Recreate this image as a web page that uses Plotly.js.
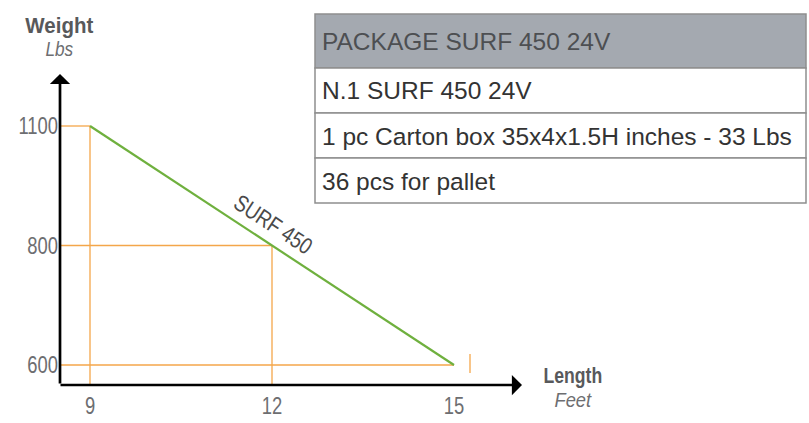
<!DOCTYPE html>
<html><head><meta charset="utf-8">
<script src="https://cdn.plot.ly/plotly-3.0.1.min.js"></script>
<style>html,body{margin:0;padding:0;background:#fff}#chart{width:809px;height:423px}</style>
</head><body><div id="chart"></div>
<script>
// ---- data ----
const lengths = [9, 12, 15];                 // Feet
const weights = [1100, 800, 600];            // Lbs
const weightCategories = ['600', '800', '1100'];
const lengthTickLabels = ['9', '12', '15'];
const seriesName = 'SURF 450';
const yTitle = ['Weight', 'Lbs'];
const xTitle = ['Length', 'Feet'];
const tableHeader = 'PACKAGE SURF 450 24V';
const tableRows = ['N.1 SURF 450 24V', '1 pc Carton box 35x4x1.5H inches - 33 Lbs', '36 pcs for pallet'];

// ---- styles ----
const W = 809, H = 423;
const COND = '"Liberation Sans", Arial, sans-serif';   // narrowed after drawing
const SANS = '"Liberation Sans", Arial, sans-serif';
const ORANGE = '#f4a64a', GREEN = '#6fb03e', GREYTXT = '#58595b', LIGHTTXT = '#6d6e71';
const xRange = [8.5055, 16.1209];
const yRange = [-0.1674, 2.4268];
const wIdx = w => weightCategories.indexOf(String(w));
const px = v => v / W, py = v => 1 - v / H;

// table geometry (pixels)
const TBL = {x0: 315, x1: 806, top: 14, headH: 54, rowH: 45, pad: 7};

const shapes = [];
// guide lines
lengths.forEach((x, i) => {
  shapes.push({type: 'line', xref: 'x', yref: 'y', layer: 'below',
    x0: xRange[0], x1: x, y0: wIdx(weights[i]), y1: wIdx(weights[i]),
    line: {color: ORANGE, width: 1.3}});
  if (i < lengths.length - 1) {
    shapes.push({type: 'line', xref: 'x', yref: 'y', layer: 'below',
      x0: x, x1: x, y0: yRange[0], y1: wIdx(weights[i]),
      line: {color: ORANGE, width: 1.3}});
  }
});
const last = lengths.length - 1;
shapes.push({type: 'line', xref: 'x', yref: 'y', layer: 'below',
  xsizemode: 'pixel', xanchor: lengths[last], x0: 16, x1: 16,
  ysizemode: 'pixel', yanchor: wIdx(weights[last]), y0: -8, y1: 11,
  line: {color: ORANGE, width: 1.3}});

const annotations = [];
const squeeze = [];
function addAnn(a, f) { annotations.push(a); squeeze.push(f || null); }

// table cells
shapes.push({type: 'rect', xref: 'paper', yref: 'paper', layer: 'above',
  x0: px(TBL.x0), x1: px(TBL.x1), y0: py(TBL.top + TBL.headH), y1: py(TBL.top),
  fillcolor: '#a4a9b0', line: {color: '#8e8e8e', width: 1.5}});
addAnn({xref: 'paper', yref: 'paper', x: px(TBL.x0 + TBL.pad - 2), y: py(TBL.top + TBL.headH / 2),
  xanchor: 'left', yanchor: 'middle', showarrow: false, text: tableHeader,
  font: {family: SANS, size: 24.5, color: '#4d4f52'}});
tableRows.forEach((r, i) => {
  const t = TBL.top + TBL.headH + i * TBL.rowH;
  shapes.push({type: 'rect', xref: 'paper', yref: 'paper', layer: 'above',
    x0: px(TBL.x0), x1: px(TBL.x1), y0: py(t + TBL.rowH), y1: py(t),
    fillcolor: '#ffffff', line: {color: '#8e8e8e', width: 1.5}});
  addAnn({xref: 'paper', yref: 'paper', x: px(TBL.x0 + TBL.pad - 2), y: py(t + TBL.rowH / 2 + 0.5),
    xanchor: 'left', yanchor: 'middle', showarrow: false, text: r,
    font: {family: SANS, size: 24.5, color: '#333333'}});
});

// axes arrows
addAnn({xref: 'paper', yref: 'paper', x: px(60), y: py(74), axref: 'pixel', ayref: 'pixel', ax: 0, ay: 311,
  text: '', showarrow: true, arrowhead: 1, arrowwidth: 2.7, arrowsize: 1.25, arrowcolor: '#000', standoff: 0});
addAnn({xref: 'paper', yref: 'paper', x: px(522), y: py(385), axref: 'pixel', ayref: 'pixel', ax: -463, ay: 0,
  text: '', showarrow: true, arrowhead: 1, arrowwidth: 2.7, arrowsize: 1.25, arrowcolor: '#000', standoff: 0});

// axis titles (two lines each, line spacing set by the small base size)
const titleText = (t, s1, s2) =>
  '<b><span style="font-size:' + s1 + 'px;color:' + GREYTXT + '">' + t[0] + '</span></b><br>' +
  '<i><span style="font-size:' + s2 + 'px;color:' + LIGHTTXT + '">' + t[1] + '</span></i>';
addAnn({xref: 'paper', yref: 'paper', x: px(60), y: py(36.5), text: titleText(yTitle, 22.5, 21), showarrow: false,
  font: {family: COND, size: 18, color: GREYTXT}, xanchor: 'center', yanchor: 'middle', align: 'center'}, [0.91, 0.82]);
addAnn({xref: 'paper', yref: 'paper', x: px(573), y: py(387), text: titleText(xTitle, 21.5, 21), showarrow: false,
  font: {family: COND, size: 18.8, color: GREYTXT}, xanchor: 'center', yanchor: 'middle', align: 'center'}, [0.82, 0.87]);
// series label along the line
addAnn({xref: 'x', yref: 'y', x: lengths[1], y: wIdx(weights[1]), text: seriesName, showarrow: false,
  textangle: 33.3, yshift: 22, xshift: 1,
  font: {family: COND, size: 23, color: '#4a4a4a'}}, [0.82]);

const traces = [
  {type: 'scatter', mode: 'lines', x: lengths, y: weights.map(String), name: seriesName,
   line: {color: GREEN, width: 2.2}, hoverinfo: 'skip', cliponaxis: false}
];

const layout = {
  width: W, height: H,
  margin: {l: 0, r: 0, t: 0, b: 0},
  paper_bgcolor: '#fff', plot_bgcolor: 'rgba(0,0,0,0)',
  showlegend: false,
  xaxis: {type: 'linear', domain: [px(60), px(522)], range: xRange,
    showgrid: false, zeroline: false, showline: false, ticks: '',
    tickvals: lengths, ticktext: lengthTickLabels, ticklabelstandoff: 5,
    tickfont: {family: COND, size: 23, color: LIGHTTXT}, fixedrange: true},
  yaxis: {type: 'category', domain: [py(385), py(75)], range: yRange,
    categoryorder: 'array', categoryarray: weightCategories,
    showgrid: false, zeroline: false, showline: false, ticks: '', ticklabelstandoff: 1,
    tickfont: {family: COND, size: 23, color: LIGHTTXT}, fixedrange: true},
  shapes: shapes,
  annotations: annotations
};

function narrow(t, f) {
  const L = t.getComputedTextLength();
  if (L > 0) { t.setAttribute('textLength', (L * f).toFixed(2)); t.setAttribute('lengthAdjust', 'spacingAndGlyphs'); }
}
Plotly.newPlot('chart', traces, layout, {displayModeBar: false, staticPlot: true}).then(gd => {
  gd.querySelectorAll('.xtick text, .ytick text').forEach(t => narrow(t, 0.8));
  gd.querySelectorAll('.annotation').forEach(g => {
    const i = +g.getAttribute('data-index');
    const f = squeeze[i];
    const t = g.querySelector('text.annotation-text');
    if (!t || !f) return;
    const lines = t.querySelectorAll('tspan.line');
    if (lines.length) lines.forEach((ln, k) => narrow(ln, f[k] || f[0]));
    else narrow(t, f[0]);
  });
});
</script>
</body></html>
